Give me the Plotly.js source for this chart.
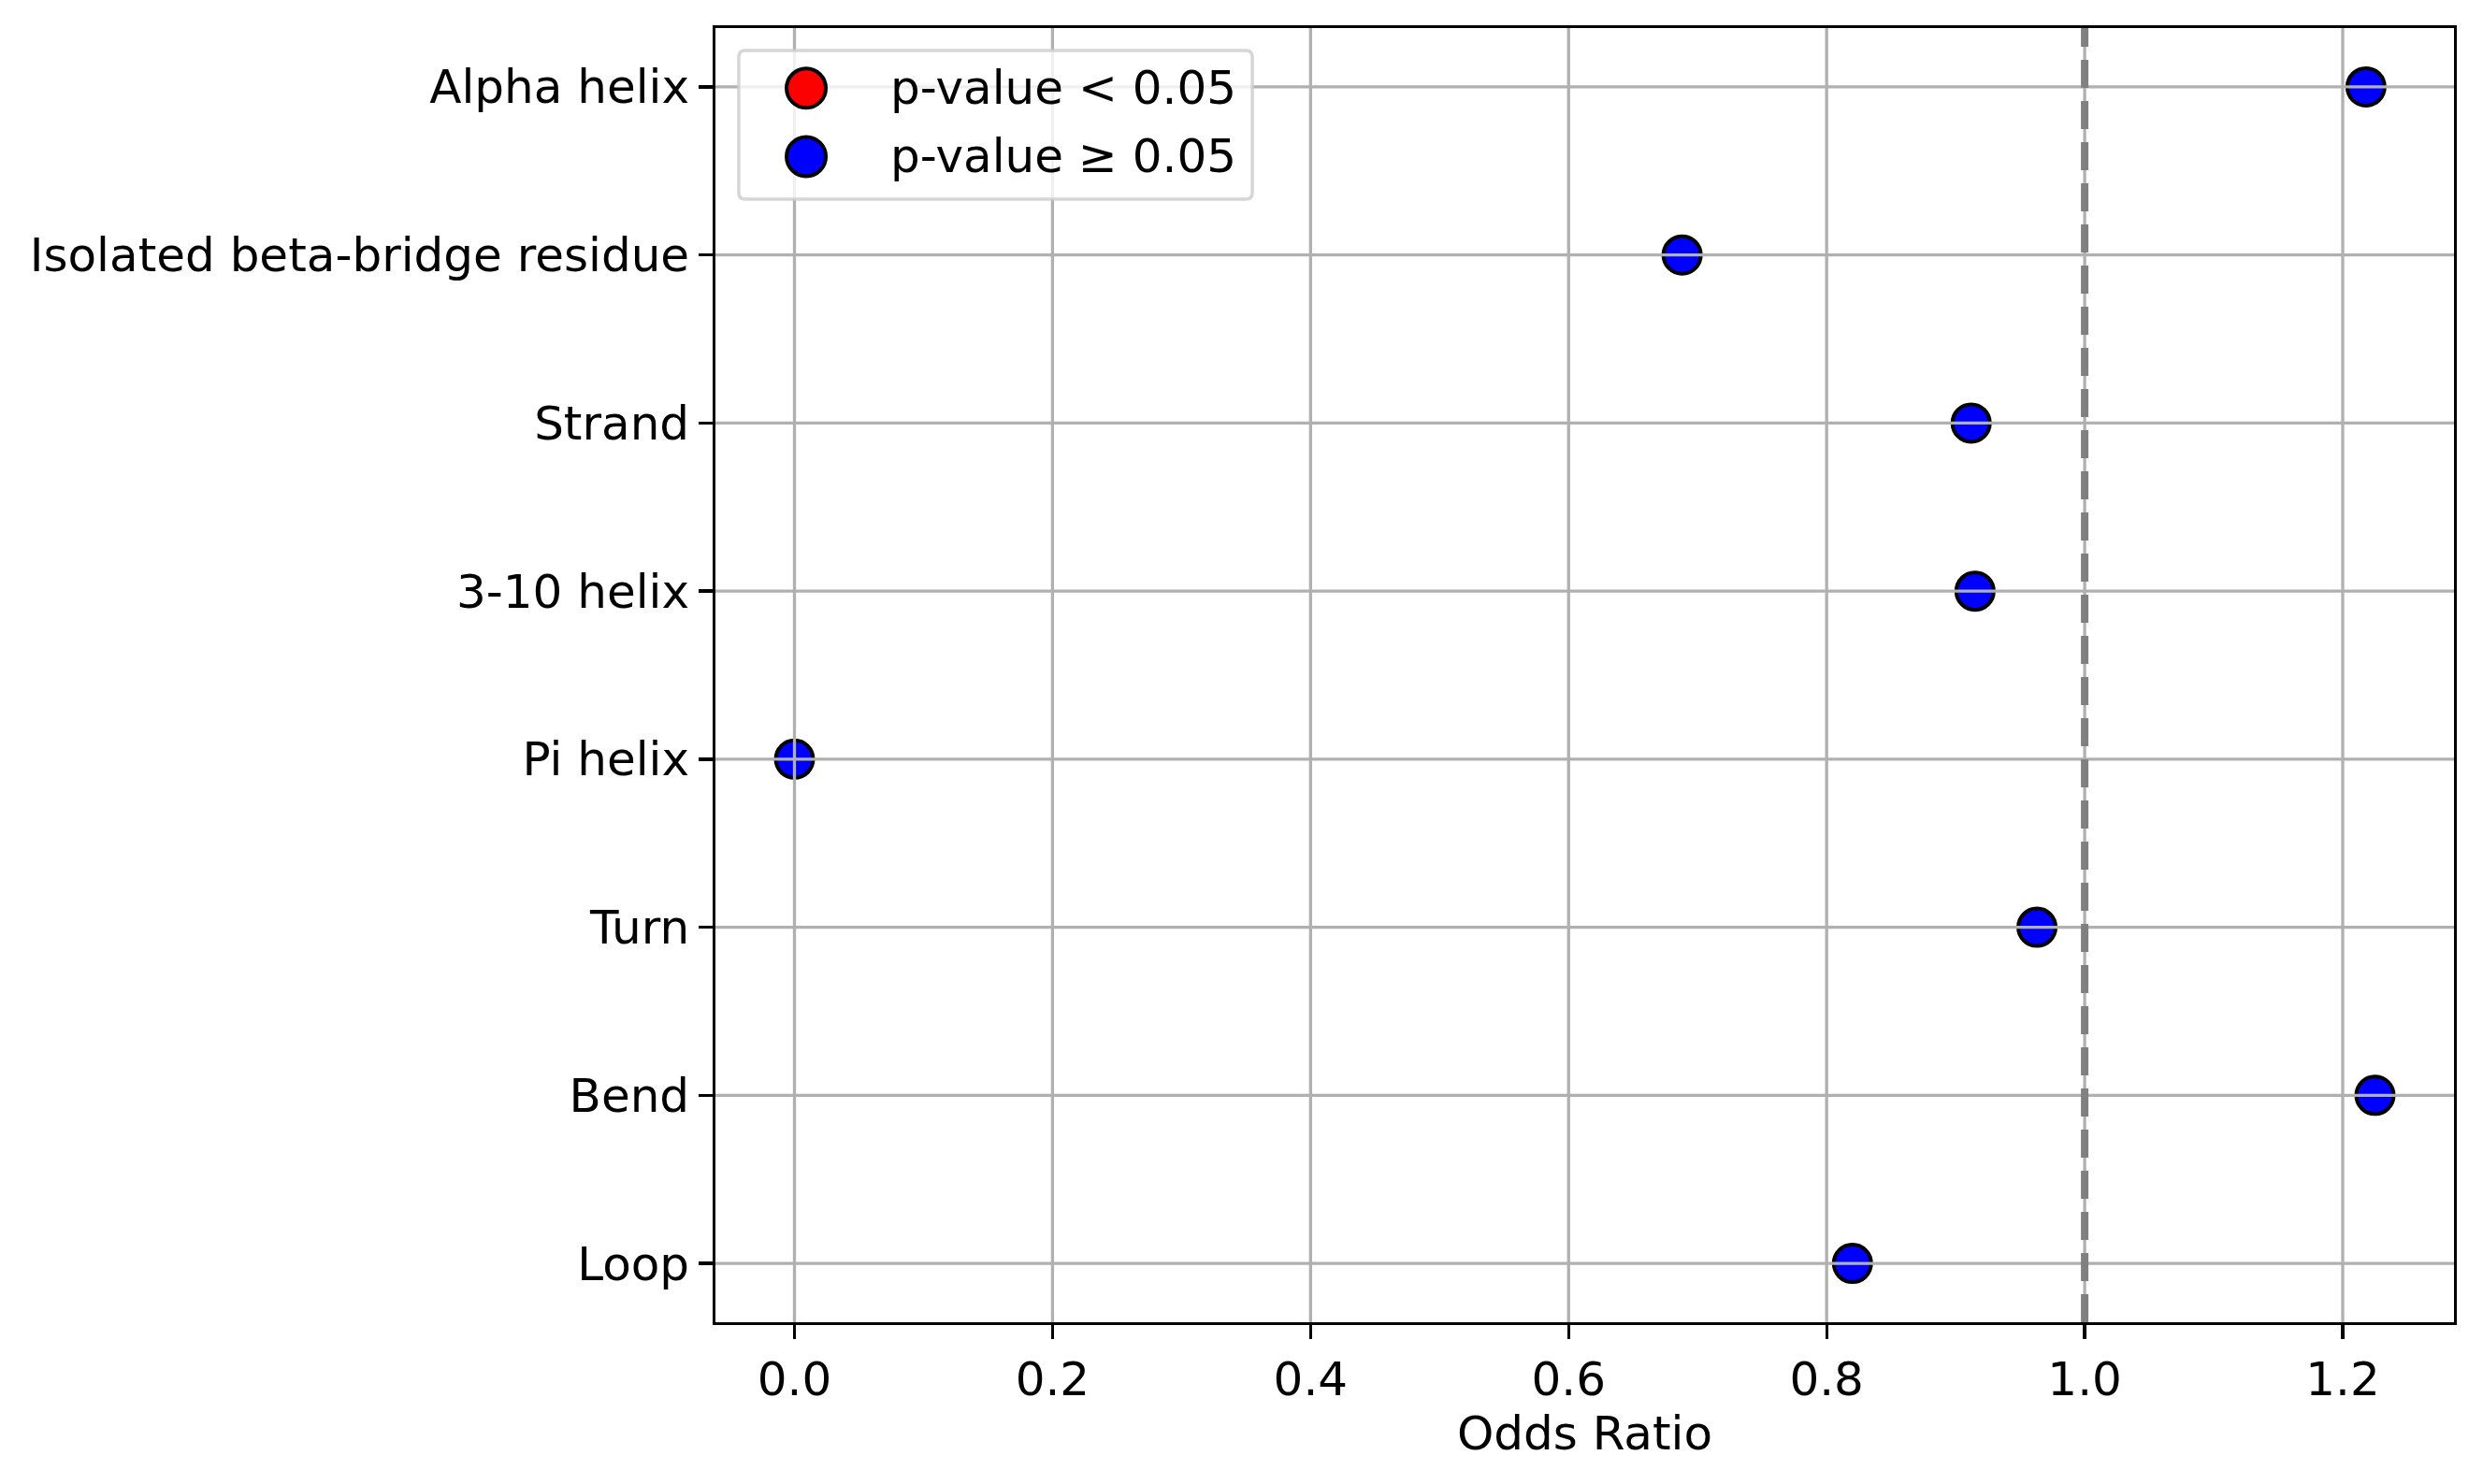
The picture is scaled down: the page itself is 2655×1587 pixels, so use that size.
<!DOCTYPE html>
<html>
<head>
<meta charset="utf-8">
<script src="https://cdn.plot.ly/plotly-3.0.1.min.js"></script>
<style>
  html, body { margin: 0; padding: 0; background: #ffffff; }
  #myPlot { width: 2655px; height: 1587px; }
</style>
</head>
<body>
<div id="myPlot"></div>
<script>
// data (top to bottom)
const categories = ['Alpha helix', 'Isolated beta-bridge residue', 'Strand', '3-10 helix',
                    'Pi helix', 'Turn', 'Bend', 'Loop'];
const oddsRatios = [1.218, 0.688, 0.912, 0.915, 0.0, 0.963, 1.225, 0.820];
const significant = [false, false, false, false, false, false, false, false];
const xTicks = [0.0, 0.2, 0.4, 0.6, 0.8, 1.0, 1.2];
const legendLabels = ['p-value < 0.05', 'p-value \u2265 0.05'];
const legendColors = ['red', 'blue'];

const FONT = 'DejaVu Sans';
const GRID = '#b0b0b0';

// split points by significance
let sigX = [], sigY = [], nsX = [], nsY = [];
for (let i = 0; i < categories.length; i++) {
    if (significant[i]) {
        sigX.push(oddsRatios[i]);
        sigY.push(categories[i]);
    } else {
        nsX.push(oddsRatios[i]);
        nsY.push(categories[i]);
    }
}

function markerTrace(x, y, color) {
    return {
        x: x.length ? x : [null],
        y: y.length ? y : [null],
        type: 'scatter',
        mode: 'markers',
        showlegend: false,
        hoverinfo: 'x+y',
        marker: { size: 40, color: color, line: { color: 'black', width: 4 } }
    };
}

let data = [markerTrace(sigX, sigY, 'red'), markerTrace(nsX, nsY, 'blue')];

// gridlines drawn above the markers, like the original
let shapes = [];
for (let i = 0; i < categories.length; i++) {
    shapes.push({
        type: 'line', layer: 'above',
        xref: 'x domain', x0: 0, x1: 1,
        yref: 'y', y0: categories[i], y1: categories[i],
        line: { color: GRID, width: 3.3 }
    });
}
for (let i = 0; i < xTicks.length; i++) {
    shapes.push({
        type: 'line', layer: 'above',
        xref: 'x', x0: xTicks[i], x1: xTicks[i],
        yref: 'y domain', y0: 0, y1: 1,
        line: { color: GRID, width: 3.3 }
    });
}

// reference line at OR = 1
shapes.push({
    type: 'line', layer: 'above',
    xref: 'x', x0: 1, x1: 1,
    yref: 'y domain', y0: 0, y1: 1,
    line: { color: 'gray', width: 8, dash: '30px,14px' }
});

// legend box (drawn by hand so the markers keep their full size)
const lx0 = 0.0134, lx1 = 0.3088, ly0 = 0.8678, ly1 = 0.9827;
const rx = 0.0038, ry = 0.0051;
shapes.push({
    type: 'path', layer: 'above', xref: 'paper', yref: 'paper',
    path: 'M ' + (lx0 + rx) + ',' + ly1 +
          ' L ' + (lx1 - rx) + ',' + ly1 +
          ' Q ' + lx1 + ',' + ly1 + ' ' + lx1 + ',' + (ly1 - ry) +
          ' L ' + lx1 + ',' + (ly0 + ry) +
          ' Q ' + lx1 + ',' + ly0 + ' ' + (lx1 - rx) + ',' + ly0 +
          ' L ' + (lx0 + rx) + ',' + ly0 +
          ' Q ' + lx0 + ',' + ly0 + ' ' + lx0 + ',' + (ly0 + ry) +
          ' L ' + lx0 + ',' + (ly1 - ry) +
          ' Q ' + lx0 + ',' + ly1 + ' ' + (lx0 + rx) + ',' + ly1 + ' Z',
    fillcolor: 'rgba(255,255,255,0.8)',
    line: { color: 'rgba(204,204,204,0.8)', width: 3.5 }
});

const legendRows = [0.9535, 0.9007];
let annotations = [];
for (let i = 0; i < legendLabels.length; i++) {
    shapes.push({
        type: 'circle', layer: 'above',
        xref: 'paper', yref: 'paper',
        xsizemode: 'pixel', ysizemode: 'pixel',
        xanchor: 0.0522, yanchor: legendRows[i],
        x0: -21, x1: 21, y0: -21, y1: 21,
        fillcolor: legendColors[i],
        line: { color: 'black', width: 4 }
    });
    annotations.push({
        xref: 'paper', yref: 'paper',
        x: 0.0995, y: legendRows[i],
        xanchor: 'left', yanchor: 'middle',
        showarrow: false,
        text: legendLabels[i],
        font: { family: FONT, size: 50, color: 'black' }
    });
}

let layout = {
    width: 2655,
    height: 1587,
    margin: { l: 765, r: 31, t: 30, b: 173, pad: 0 },
    paper_bgcolor: 'white',
    plot_bgcolor: 'white',
    showlegend: false,
    font: { family: FONT, size: 50, color: 'black' },
    xaxis: {
        range: [-0.06125, 1.28625],
        tickvals: xTicks,
        tickformat: '.1f',
        ticks: 'outside',
        ticklen: 14.6,
        tickwidth: 3.3,
        tickcolor: 'black',
        tickfont: { family: FONT, size: 50, color: 'black' },
        showgrid: false,
        zeroline: false,
        showline: true,
        linecolor: 'black',
        linewidth: 3.3,
        mirror: true,
        title: {
            text: 'Odds Ratio',
            font: { family: FONT, size: 50, color: 'black' },
            standoff: 11
        }
    },
    yaxis: {
        type: 'category',
        categoryorder: 'array',
        categoryarray: categories,
        range: [7.35, -0.35],
        ticks: 'outside',
        ticklen: 14.6,
        tickwidth: 3.3,
        tickcolor: 'black',
        tickfont: { family: FONT, size: 50, color: 'black' },
        showgrid: false,
        zeroline: false,
        showline: true,
        linecolor: 'black',
        linewidth: 3.3,
        mirror: true
    },
    shapes: shapes,
    annotations: annotations
};

Plotly.newPlot('myPlot', data, layout, { displayModeBar: false, staticPlot: true });
</script>
</body>
</html>
